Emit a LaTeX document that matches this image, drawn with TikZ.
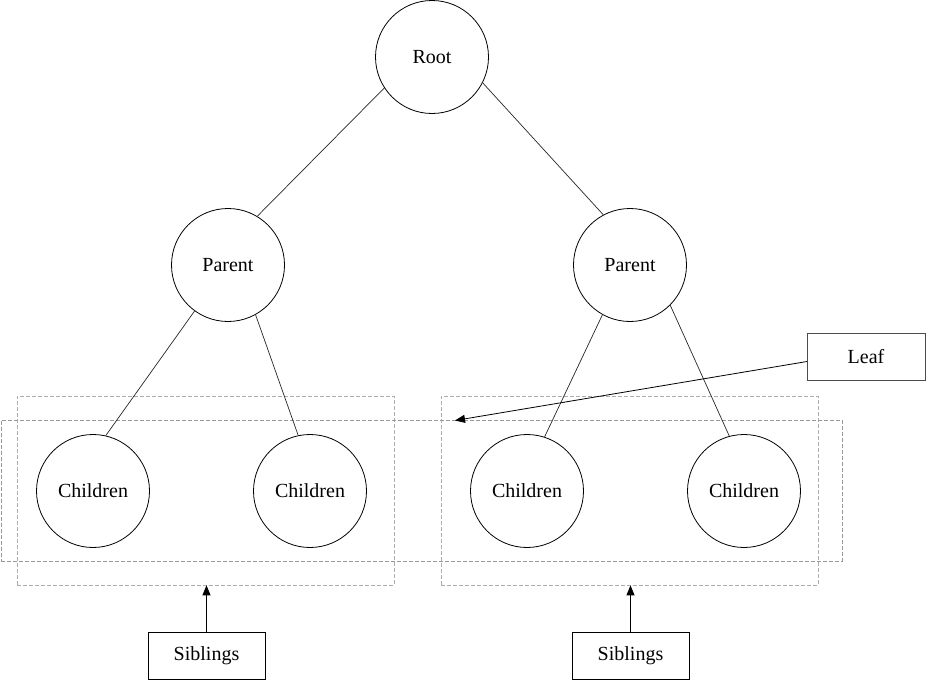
\documentclass[tikz,border=0pt]{standalone}
\usepackage{fontspec}
\setmainfont{Liberation Serif}
\usetikzlibrary{arrows.meta}
\begin{document}
\begin{tikzpicture}[x=1pt,y=-1pt,
  every node/.style={font=\fontsize{20}{24}\selectfont},
  circ/.style={draw=black,circle,line width=0.8pt,minimum size=113pt,inner sep=0pt},
  labelbox/.style={draw=black,rectangle,line width=1pt,minimum width=117pt,minimum height=47pt,inner sep=0pt},
  grp/.style={draw=gray!65,dashed,dash pattern=on 4pt off 2pt,line width=0.7pt,rectangle,inner sep=0pt},
  edge/.style={draw=black!85,line width=0.7pt},
  arr/.style={draw=black,line width=0.8pt,-{Triangle[length=10pt,width=8pt]}}]
\useasboundingbox (0,0) rectangle (926,680);
% groups
\node[grp,minimum width=377pt,minimum height=189pt] (g1) at (205.5,490.5) {};
\node[grp,minimum width=377pt,minimum height=189pt] (g2) at (629.5,490.5) {};
\node[grp,draw=gray!80,minimum width=841pt,minimum height=141pt] (gall) at (421.5,490.5) {};
% tree
\node[circ] (root) at (432,57) {\raisebox{-1pt}{Root}};
\node[circ] (pl) at (228,265) {\raisebox{-1pt}{Parent}};
\node[circ] (pr) at (630,265) {\raisebox{-1pt}{Parent}};
\node[circ] (c1) at (93,491) {\raisebox{-1pt}{Children}};
\node[circ] (c2) at (310,491) {\raisebox{-1pt}{Children}};
\node[circ] (c3) at (527,491) {\raisebox{-1pt}{Children}};
\node[circ] (c4) at (744,491) {\raisebox{-1pt}{Children}};
\draw[edge] (root.213.7) -- (pl.59.4);
\draw[edge] (root.333) -- (pr.118.8);
\draw[edge] (pl.234.3) -- (c1.77.9);
\draw[edge] (pl.299.7) -- (c2.102.1);
\draw[edge] (pr.241.1) -- (c3.72.2);
\draw[edge] (pr.315.7) -- (c4.105);
% labels
\node[labelbox,draw=black!70,minimum width=118pt] (leaf) at (866,356.5) {\raisebox{-1pt}{Leaf}};
\node[labelbox] (s1) at (206.5,655.5) {\raisebox{-2pt}{Siblings}};
\node[labelbox] (s2) at (630.5,655.5) {\raisebox{-2pt}{Siblings}};
\coordinate (leafout) at (807,361.5);
\coordinate (leaftip) at (455,420.5);
\draw[arr] (leafout) -- (leaftip);
\draw[arr] (s1.north) -- (s1.north |- g1.south);
\draw[arr] (s2.north) -- (s2.north |- g2.south);
\end{tikzpicture}
\end{document}
